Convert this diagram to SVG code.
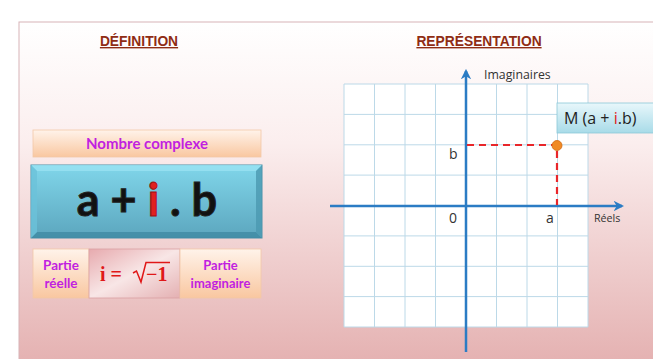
<svg xmlns="http://www.w3.org/2000/svg" width="653" height="359" viewBox="0 0 653 359">
<defs>
<linearGradient id="bg" x1="0" y1="0" x2="0" y2="1">
<stop offset="0" stop-color="#ffffff"/>
<stop offset="0.35" stop-color="#fbeeee"/>
<stop offset="1" stop-color="#e4b0b0"/>
</linearGradient>
<linearGradient id="peach" x1="0" y1="0" x2="0" y2="1">
<stop offset="0" stop-color="#fff3ea"/>
<stop offset="1" stop-color="#f9c7a0"/>
</linearGradient>
<linearGradient id="teal" x1="0" y1="0" x2="0" y2="1">
<stop offset="0" stop-color="#80d6ea"/>
<stop offset="1" stop-color="#5ca6be"/>
</linearGradient>
<linearGradient id="pinkc" x1="0" y1="0" x2="1" y2="1">
<stop offset="0" stop-color="#e7aaae"/>
<stop offset="0.5" stop-color="#f8e6e6"/>
<stop offset="1" stop-color="#e4b0b2"/>
</linearGradient>
<linearGradient id="mbox" x1="0" y1="0" x2="0" y2="1">
<stop offset="0" stop-color="#e8f7fb"/>
<stop offset="1" stop-color="#a8dbe8"/>
</linearGradient>
<marker id="arr" viewBox="0 0 10 10" refX="8" refY="5" markerWidth="4.2" markerHeight="4.2" orient="auto">
<path d="M0,0 L10,5 L0,10 L3,5 z" fill="#2b7cc4"/>
</marker>
<style>
.title{font-family:"Liberation Sans",Arial,sans-serif;font-weight:bold;font-size:13.8px;fill:#8f2c14;text-decoration:underline}
.mag{font-family:Lato,"Open Sans",sans-serif;font-weight:bold;fill:#c11fe0}
.lbl{font-family:"Open Sans",Lato,sans-serif;fill:#333}
.grid line{stroke:#bcd9e8;stroke-width:1}
.axis{stroke:#2b7cc4;stroke-width:2.5;fill:none}
</style>
</defs>
<rect x="0" y="0" width="653" height="359" fill="#ffffff"/>
<rect x="19" y="22" width="640" height="345" fill="url(#bg)" stroke="#d8b4b8" stroke-width="1"/>

<g id="title-definition"><text class="title" x="139" y="46" text-anchor="middle">DÉFINITION</text></g>
<g id="title-representation"><text class="title" x="479" y="46" text-anchor="middle">REPRÉSENTATION</text></g>

<g id="nombre-complexe">
<rect x="33" y="130" width="228" height="27" fill="url(#peach)" stroke="#f2c8a8" stroke-width="0.8"/>
<text class="mag" x="147" y="149" font-size="15" text-anchor="middle">Nombre complexe</text>
</g>

<g id="formule">
<rect x="31" y="165" width="231" height="73" fill="url(#teal)" stroke="#4a90a8" stroke-width="1"/>
<path d="M31,165 L37,171 L256,171 L262,165 Z" fill="#9ae2f2" opacity="0.8"/>
<path d="M31,238 L37,232 L256,232 L262,238 Z" fill="#3e8aa2" opacity="0.8"/>
<path d="M31,165 L37,171 L37,232 L31,238 Z" fill="#6cc2da" opacity="0.8"/>
<path d="M262,165 L256,171 L256,232 L262,238 Z" fill="#4b98b0" opacity="0.8"/>
<text x="147" y="216" font-family="Lato,'Open Sans',sans-serif" font-weight="bold" font-size="45" text-anchor="middle" stroke="#222" stroke-width="1"><tspan fill="#111">a + </tspan><tspan fill="#e02020" stroke="#a01010">i</tspan><tspan fill="#111"> . b</tspan></text>
</g>

<g id="partie-reelle">
<rect x="33" y="249" width="56" height="49" fill="url(#peach)" stroke="#f2c8a8" stroke-width="0.8"/>
<text class="mag" x="61" y="270" font-size="13.5" text-anchor="middle">Partie</text>
<text class="mag" x="61" y="288" font-size="13.5" text-anchor="middle">réelle</text>
</g>
<g id="racine">
<rect x="89" y="249" width="91" height="49" fill="url(#pinkc)" stroke="#d9a0a4" stroke-width="0.8"/>
<text x="100" y="281" font-family="'Liberation Serif','Times New Roman',serif" font-weight="bold" font-size="20" fill="#e01818">i =</text>
<path d="M133,273 L136.5,271 L141,282 L146,262.5 L170,262.5" fill="none" stroke="#e01818" stroke-width="1.5"/>
<text x="146" y="281" font-family="'Liberation Serif','Times New Roman',serif" font-weight="bold" font-size="20" fill="#e01818">−1</text>
</g>
<g id="partie-imaginaire">
<rect x="180" y="249" width="81" height="49" fill="url(#peach)" stroke="#f2c8a8" stroke-width="0.8"/>
<text class="mag" x="220.5" y="270" font-size="13" text-anchor="middle">Partie</text>
<text class="mag" x="220.5" y="288" font-size="13" text-anchor="middle">imaginaire</text>
</g>

<g id="grille">
<rect x="344" y="84" width="244" height="243" fill="#ffffff"/>
<g class="grid">
<line x1="344" y1="84" x2="344" y2="327"/><line x1="374.5" y1="84" x2="374.5" y2="327"/><line x1="405" y1="84" x2="405" y2="327"/><line x1="435.5" y1="84" x2="435.5" y2="327"/><line x1="466" y1="84" x2="466" y2="327"/><line x1="496.5" y1="84" x2="496.5" y2="327"/><line x1="527" y1="84" x2="527" y2="327"/><line x1="557.5" y1="84" x2="557.5" y2="327"/><line x1="588" y1="84" x2="588" y2="327"/>
<line x1="344" y1="84" x2="588" y2="84"/><line x1="344" y1="114.4" x2="588" y2="114.4"/><line x1="344" y1="144.8" x2="588" y2="144.8"/><line x1="344" y1="175.1" x2="588" y2="175.1"/><line x1="344" y1="205.5" x2="588" y2="205.5"/><line x1="344" y1="235.9" x2="588" y2="235.9"/><line x1="344" y1="266.3" x2="588" y2="266.3"/><line x1="344" y1="296.6" x2="588" y2="296.6"/><line x1="344" y1="327" x2="588" y2="327"/>
</g>
</g>

<g id="connecteurs">
<line class="axis" x1="466" y1="352" x2="466" y2="71" marker-end="url(#arr)"/>
<line class="axis" x1="330" y1="206" x2="622" y2="206" marker-end="url(#arr)"/>
<path d="M467,145 L557,145 L557,205" fill="none" stroke="#e8262a" stroke-width="2.2" stroke-dasharray="7,5"/>
</g>

<g id="point-M">
<circle cx="557" cy="145.5" r="5" fill="#f08a24" stroke="#d06a10" stroke-width="0.8"/>
</g>
<g id="label-M">
<rect x="557" y="103" width="100" height="30" fill="url(#mbox)" stroke="#8cc8d8" stroke-width="0.8"/>
<text x="564" y="124" font-family="'Open Sans',Lato,sans-serif" font-size="16" fill="#222">M (a + <tspan fill="#e02020">i</tspan>.b)</text>
</g>

<g id="labels-axes">
<text class="lbl" x="484" y="79" font-size="12.3">Imaginaires</text>
<text class="lbl" x="594" y="222" font-size="10.7">Réels</text>
<text class="lbl" x="449" y="159" font-size="14">b</text>
<text class="lbl" x="449" y="223" font-size="14">0</text>
<text class="lbl" x="546" y="223" font-size="14">a</text>
</g>
</svg>
